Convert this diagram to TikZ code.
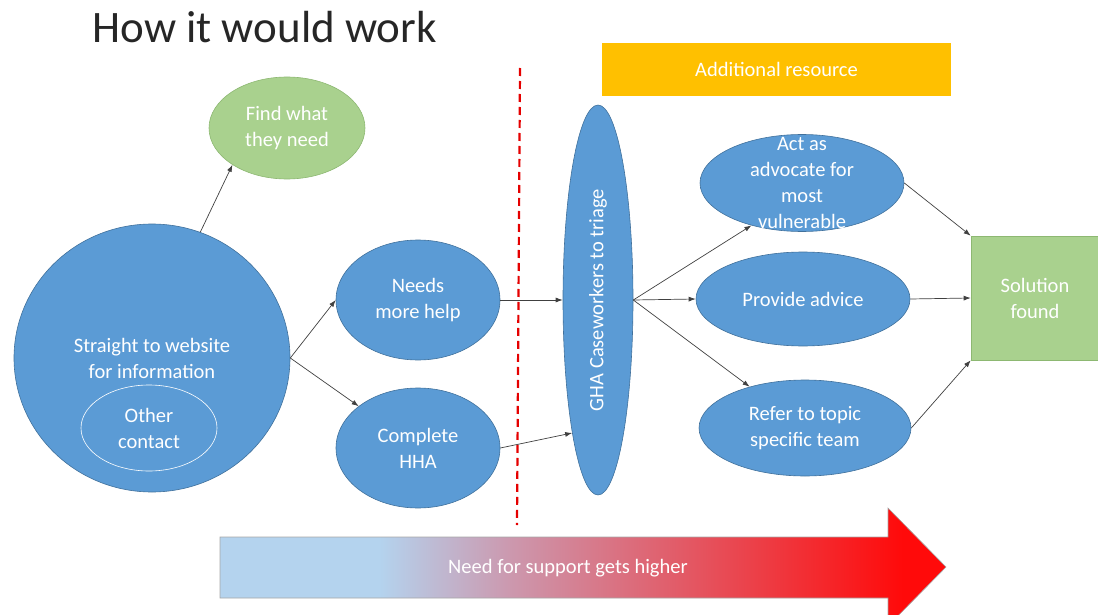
\documentclass[tikz,border=0pt]{standalone}
\usepackage{fontspec}
\setmainfont{Carlito}
\usetikzlibrary{shapes.geometric,arrows.meta}
\definecolor{bubble}{HTML}{5B9BD5}
\definecolor{bubbleline}{HTML}{41719C}
\definecolor{leaf}{HTML}{A9D18E}
\definecolor{leafline}{HTML}{8DB872}
\definecolor{amber}{HTML}{FFC000}
\definecolor{paleblue}{HTML}{B4D3EE}
\definecolor{rose}{HTML}{CC98AE}
\definecolor{hotred}{HTML}{FF0A0A}
\pgfdeclarehorizontalshading{needshade}{100bp}{color(0bp)=(paleblue); color(25bp)=(paleblue);
  color(36bp)=(paleblue); color(45bp)=(rose); color(72bp)=(hotred); color(100bp)=(hotred)}

\begin{document}
\begin{tikzpicture}[x=1pt,y=-1pt,
    say/.style={text=white,align=center,font=\fontsize{20.5}{26}\selectfont},
    blob/.style={ellipse,say,fill=bubble,draw=bubbleline,line width=0.6pt,inner sep=0pt},
    box/.style={rectangle,say,draw=leafline,fill=leaf,line width=0.6pt,inner sep=0pt},
    link/.style={-{Latex[length=7pt,width=5pt]},draw=black!75,line width=0.7pt}]
  \useasboundingbox (0,0) rectangle (1098,615);
  \node[anchor=base west,text=black!85,font=\fontsize{45}{52}\selectfont] (title) at (89,43) {How it would work};
  % left side
  \node[blob,fill=leaf,draw=leafline,minimum width=156,minimum height=102] (find) at (287,128) {Find what\\they need};
  \node[blob,minimum width=276,minimum height=268] (web) at (152,358) {Straight to website\\for information};
  \node[ellipse,say,draw=white,line width=0.6pt,minimum width=136,minimum height=86] (other) at (149,428) {Other\\contact};
  \node[blob,minimum width=164,minimum height=120] (needs) at (418,300) {Needs\\more help};
  \node[blob,minimum width=164,minimum height=120] (hha) at (418,448) {Complete\\HHA};
  \coordinate (cuttop) at (520,68);
  \coordinate (cutbot) at (517,525);
  \draw[red!90!black,line width=2.2pt,dash pattern=on 8pt off 5pt] (cuttop) -- (cutbot);
  % right side
  \node[blob,minimum width=70,minimum height=390,
        label={[say,rotate=90]center:GHA Caseworkers to triage}] (gha) at (598,300) {};
  \node[box,draw=none,fill=amber,minimum width=349,minimum height=53] (extra) at (776.5,69.5) {Additional resource};
  \node[blob,minimum width=204,minimum height=97,
        label={[say]center:Act as\\advocate for\\most\\vulnerable}] (act) at (802,183) {};
  \node[blob,minimum width=214,minimum height=94] (advice) at (803,299) {Provide advice};
  \node[blob,minimum width=212,minimum height=96] (refer) at (805,428) {Refer to topic\\specific team};
  \node[box,minimum width=128,minimum height=124] (sol) at (1035,298) {Solution\\found};

  \draw[link] (web.69) -- (find.214);
  \draw[link] (web.east) -- (needs.west);
  \draw[link] (web.east) -- (hha);
  \draw[link] (needs.east) -- (gha.west);
  \draw[link] (hha.east) -- (gha.259);
  \draw[link] (gha.east) -- (act.220);
  \draw[link] (gha.east) -- (advice.west);
  \draw[link] (gha.east) -- (refer);
  \draw[link] (act.east) -- (sol.north west);
  \draw[link] (advice.east) -- (sol.west);
  \draw[link] (refer.east) -- (sol.south west);

  % bottom arrow
  \scope
  \clip (0,0) rectangle (1098,615);
  \shade[shading=needshade,draw=black!35,line width=0.6pt]
    (220,537) -- (888,537) -- (888,508) -- (946,567) -- (888,626) -- (888,598) -- (220,598) -- cycle;
  \endscope
  \node[say] (need) at (568,568) {Need for support gets higher};
\end{tikzpicture}
\end{document}
